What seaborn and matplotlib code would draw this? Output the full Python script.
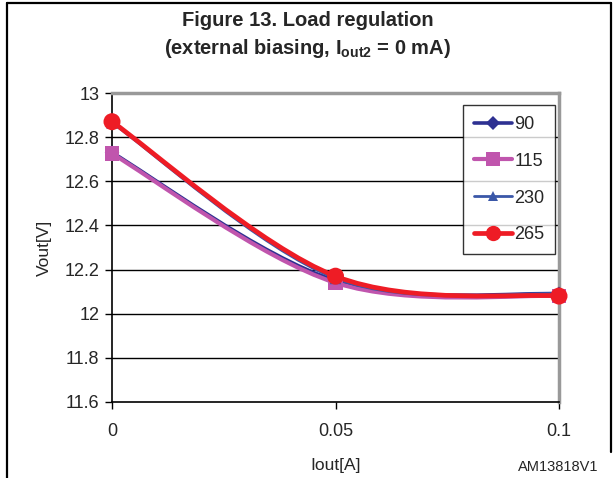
import numpy as np
import pandas as pd
import matplotlib
matplotlib.use("Agg")
import matplotlib.pyplot as plt
from matplotlib.path import Path
from matplotlib.patches import PathPatch
from matplotlib.lines import Line2D
import seaborn as sns

# ---- data ----
iout = [0.0, 0.05, 0.1]
series_names = ["90", "115", "230", "265"]
v_90 = [12.73, 12.15, 12.09]
v_115 = [12.725, 12.14, 12.08]
v_230 = [12.865, 12.16, 12.09]
v_265 = [12.87, 12.17, 12.08]
y_ticks = [11.6, 11.8, 12.0, 12.2, 12.4, 12.6, 12.8, 13.0]
y_tick_labels = ["11.6", "11.8", "12", "12.2", "12.4", "12.6", "12.8", "13"]
x_ticks = [0, 0.05, 0.1]
x_tick_labels = ["0", "0.05", "0.1"]

colors = {"90": "#2e3192", "115": "#c055ad", "230": "#3a57a8", "265": "#ee1c25"}
markers = {"90": "D", "115": "s", "230": "^", "265": "o"}
msizes = {"90": 55, "115": 110, "230": 70, "265": 150}
lws = {"90": 2.6, "115": 3.0, "230": 2.0, "265": 3.4}

df = pd.DataFrame({
    "Iout": iout * 4,
    "Vout": v_90 + v_115 + v_230 + v_265,
    "series": sum([[n] * len(iout) for n in series_names], []),
})

sns.set_style("white")
plt.rcParams["font.family"] = ["Liberation Sans", "DejaVu Sans"]
plt.rcParams["mathtext.fontset"] = "custom"
plt.rcParams["mathtext.bf"] = "Liberation Sans:bold"
plt.rcParams["mathtext.rm"] = "Liberation Sans"

fig = plt.figure(figsize=(6.15, 4.78), dpi=100)
ax = fig.add_axes([112 / 615, 1 - 402 / 478, (559 - 112) / 615, (402 - 93) / 478])

# horizontal gridlines
for yt in y_ticks[1:-1]:
    ax.axhline(yt, color="black", lw=1.0, zorder=1)


def smooth_path(xs, ys):
    # Excel-style smoothed line: cubic Bezier segments (Catmull-Rom tangents)
    pts = np.column_stack([xs, ys])
    n = len(pts)
    verts = [tuple(pts[0])]
    codes = [Path.MOVETO]
    for i in range(n - 1):
        p0 = pts[max(i - 1, 0)]
        p1 = pts[i]
        p2 = pts[i + 1]
        p3 = pts[min(i + 2, n - 1)]
        c1 = p1 + (p2 - p0) / 6.0
        c2 = p2 - (p3 - p1) / 6.0
        verts += [tuple(c1), tuple(c2), tuple(p2)]
        codes += [Path.CURVE4] * 3
    return Path(verts, codes)


for name in series_names:
    sub = df[df["series"] == name]
    patch = PathPatch(smooth_path(sub["Iout"].values, sub["Vout"].values),
                      facecolor="none", edgecolor=colors[name], lw=lws[name],
                      zorder=3, capstyle="round", joinstyle="round")
    ax.add_patch(patch)
    sns.scatterplot(data=sub, x="Iout", y="Vout", marker=markers[name],
                    s=msizes[name], color=colors[name], edgecolor="none",
                    ax=ax, zorder=4, legend=False, clip_on=False)

ax.set_xlim(0, 0.1)
ax.set_ylim(11.6, 13.0)
ax.set_xticks(x_ticks)
ax.set_xticklabels(x_tick_labels)
ax.set_yticks(y_ticks)
ax.set_yticklabels(y_tick_labels)
ax.tick_params(axis="both", direction="out", length=5, width=1, color="black",
               labelsize=13, pad=4, bottom=True, left=True)
ax.tick_params(axis="x", pad=10)
ax.set_xlabel("Iout[A]", fontsize=12.5, labelpad=13)
ax.set_ylabel("Vout[V]", fontsize=12.5, labelpad=9)

for s in ["left", "bottom"]:
    ax.spines[s].set_color("black")
    ax.spines[s].set_linewidth(1.2)
    ax.spines[s].set_visible(True)
for s in ["top", "right"]:
    ax.spines[s].set_color("#999999")
    ax.spines[s].set_linewidth(2.5)
    ax.spines[s].set_visible(True)

handles = [Line2D([0], [0], color=colors[n], lw=lws[n], marker=markers[n],
                  markersize=np.sqrt(msizes[n]) * 0.9, markeredgewidth=0)
           for n in series_names]
leg = fig.legend(handles, series_names, loc="upper left",
                 bbox_to_anchor=(463 / 615, 1 - 105 / 478),
                 bbox_transform=fig.transFigure, frameon=True, fancybox=False,
                 edgecolor="black", fontsize=13, handlelength=2.1,
                 handletextpad=0.15, labelspacing=1.1, borderpad=0.6,
                 borderaxespad=0)
leg.get_frame().set_linewidth(1.0)
leg.set_zorder(10)

fig.text(0.5, 1 - 20 / 478, "Figure 13. Load regulation", ha="center",
         va="center", fontsize=14.5, fontweight="bold")
fig.text(0.5, 1 - 49 / 478,
         r"(external biasing, $\mathbf{I_{out2}}$ = 0 mA)", ha="center",
         va="center", fontsize=14.5, fontweight="bold")
fig.text(598 / 615, 1 - 467 / 478, "AM13818V1", ha="right", va="center",
         fontsize=10.5)

# outer frame (left, top, right)
fig.add_artist(Line2D([7 / 615, 7 / 615], [0, 1 - 3 / 478], color="black",
                      lw=1.6, transform=fig.transFigure))
fig.add_artist(Line2D([7 / 615, 611 / 615], [1 - 3 / 478, 1 - 3 / 478],
                      color="black", lw=1.6, transform=fig.transFigure))
fig.add_artist(Line2D([611 / 615, 611 / 615], [1 - 3 / 478, 1 - 452 / 478],
                      color="black", lw=1.6, transform=fig.transFigure))

fig.savefig("out.png", dpi=100)
